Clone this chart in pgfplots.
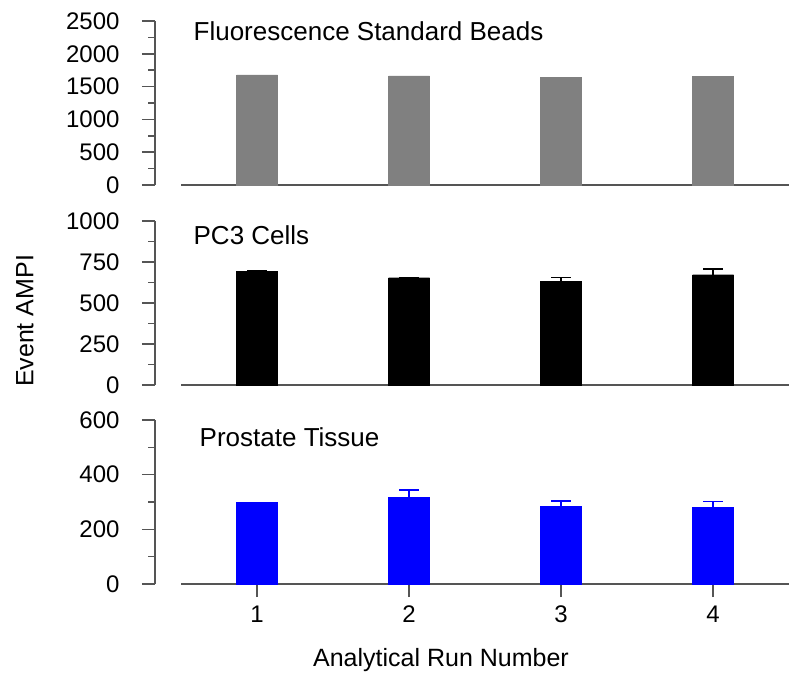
\documentclass[border=0pt]{standalone}
\usepackage{fontspec}
\setmainfont{Liberation Sans}
\usepackage{pgfplots}
\pgfplotsset{compat=1.18}
\definecolor{axgray}{RGB}{85,85,85}
\definecolor{bargray}{RGB}{128,128,128}
\definecolor{barblue}{RGB}{0,0,255}
\tikzset{ttl/.style={anchor=west, font=\fontsize{26}{31}\selectfont}}
\begin{document}
\begin{tikzpicture}
\useasboundingbox (0pt,0pt) rectangle (800pt,677pt);
\pgfplotsset{
 panel/.style={
  scale only axis, width=608pt, height=164pt, anchor=south west,
  xmin=0.5, xmax=4.5, ymin=0,
  axis lines=left, axis line style={-, axgray, line width=1.5pt},
  axis y line shift=26pt,
  tick align=outside,
  major tick length=13pt, minor tick length=7pt,
  tick style={axgray, line width=1.5pt},
  minor y tick num=1,
  tick label style={font=\fontsize{24}{28}\selectfont, black},
  yticklabel style={xshift=-19pt},
  xticklabel style={yshift=-5pt},
  /pgf/number format/assume math mode=true,
  /pgf/number format/1000 sep={},
  ybar, bar width=41pt,
  clip=false,
  xtick=\empty,
 },
}
% top panel
\begin{axis}[panel, at={(181pt,492pt)}, ymax=2500, ytick={0,500,1000,1500,2000,2500}]
\addplot[fill=bargray, draw=bargray, line width=0.1pt] coordinates {(1,1680) (2,1665) (3,1640) (4,1660)};
\node[ttl] at (rel axis cs:0.015,0.94) {Fluorescence Standard Beads};
\end{axis}
% middle panel
\begin{axis}[panel, at={(181pt,292pt)}, ymax=1000, ytick={0,250,500,750,1000}]
\addplot[fill=black, draw=black, line width=0.1pt,
  error bars/.cd, y dir=plus, y explicit,
  error bar style={black, line width=1.5pt},
  error mark options={rotate=90, black, mark size=10pt, line width=1.5pt}]
 coordinates {(1,695) +- (0,0) (2,654) +- (0,0) (3,632) +- (0,22) (4,673) +- (0,34)};
\node[ttl] at (rel axis cs:0.015,0.915) {PC3 Cells};
\end{axis}
% bottom panel
\begin{axis}[panel, at={(181pt,93pt)}, ymax=600, ytick={0,200,400,600}, xtick={1,2,3,4}]
\addplot[fill=barblue, draw=barblue, line width=0.1pt,
  error bars/.cd, y dir=plus, y explicit,
  error bar style={barblue, line width=1.5pt},
  error mark options={rotate=90, barblue, mark size=10pt, line width=1.5pt}]
 coordinates {(1,299) +- (0,0) (2,317) +- (0,27) (3,285) +- (0,19) (4,281) +- (0,21)};
\node[ttl] at (rel axis cs:0.025,0.896) {Prostate Tissue};
\end{axis}
\node[rotate=90, font=\fontsize{25}{30}\selectfont] at (25pt,356pt) {Event AMPI};
\node[anchor=base, font=\fontsize{25}{30}\selectfont] at (441pt,10pt) {Analytical Run Number};
\end{tikzpicture}
\end{document}
